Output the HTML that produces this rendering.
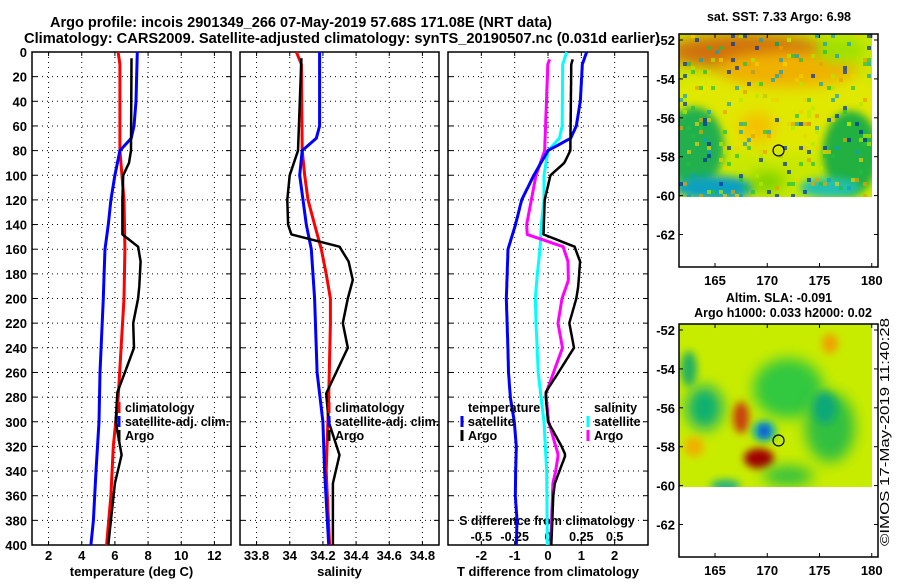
<!DOCTYPE html>
<html><head><meta charset="utf-8">
<style>
html,body{margin:0;padding:0;background:#fff;}
svg text{font-family:"Liberation Sans",sans-serif;font-weight:bold;fill:#000;}
</style></head>
<body>
<svg id="c" width="900" height="580" viewBox="0 0 900 580" xmlns="http://www.w3.org/2000/svg">
<defs>
<filter id="blur1" x="-50%" y="-50%" width="200%" height="200%"><feGaussianBlur stdDeviation="7"/></filter>
<filter id="blur2" x="-50%" y="-50%" width="200%" height="200%"><feGaussianBlur stdDeviation="4"/></filter>
<clipPath id="clipTop"><rect x="679" y="34" width="193" height="163"/></clipPath>
<clipPath id="clipBot"><rect x="679" y="324" width="193" height="163"/></clipPath>
</defs>
<text x="50" y="27" font-size="14.5" textLength="502" lengthAdjust="spacingAndGlyphs">Argo profile: incois 2901349_266 07-May-2019 57.68S 171.08E (NRT data)</text>
<text x="24" y="43" font-size="14.5" textLength="636" lengthAdjust="spacingAndGlyphs">Climatology: CARS2009. Satellite-adjusted climatology: synTS_20190507.nc (0.031d earlier)</text>
<g id="plots"></g>
<g id="maps"></g>
</svg>
<script>
// ---- data ----
const climTempDepth = [0,10,80,120,160,200,240,280,320,360,400];
const climTemp      = [6.19,6.3,6.3,6.55,6.6,6.55,6.37,6.2,5.9,5.76,5.5];
const satTempDepth  = [0,40,60,70,80,100,120,140,160,180,200,260,300,340,380,400];
const satTemp       = [7.35,7.27,7.15,6.98,6.3,6.0,5.76,5.6,5.4,5.35,5.3,5.1,5.04,4.86,4.7,4.55];
const argoTempDepth = [5,80,90,100,120,148,158,170,190,200,220,240,260,276,300,327,350,380,400];
const argoTemp      = [7.0,6.97,6.85,6.5,6.45,6.45,7.4,7.55,7.47,7.4,7.1,7.15,6.6,6.15,6.05,6.4,6.0,5.76,5.6];
const climSalDepth  = [0,10,80,100,120,140,160,180,200,220,280,340,400];
const climSal       = [34.04,34.07,34.075,34.09,34.11,34.15,34.19,34.22,34.245,34.245,34.235,34.22,34.24];
const satSalDepth   = [0,60,70,80,100,140,160,200,260,300,340,400];
const satSal        = [34.18,34.18,34.16,34.075,34.06,34.1,34.13,34.15,34.165,34.2,34.21,34.235];
const argoSalDepth  = [5,80,100,120,140,148,158,170,185,200,220,240,260,277,300,327,350,400];
const argoSal       = [34.07,34.05,34.0,33.985,33.99,34.01,34.3,34.355,34.38,34.35,34.32,34.35,34.28,34.22,34.235,34.3,34.26,34.26];
const depthTicks = [0,20,40,60,80,100,120,140,160,180,200,220,240,260,280,300,320,340,360,380,400];
const tempTicks = [2,4,6,8,10,12];
const salTicks = [33.8,34,34.2,34.4,34.6,34.8];
const salTickLabels = ["33.8","34","34.2","34.4","34.6","34.8"];
const tdiffTicks = [-2,-1,0,1,2];
const sdiffTicks = [-0.5,-0.25,0,0.25,0.5];
const latTicks = [-52,-54,-56,-58,-60,-62];
const lonTicks = [165,170,175,180];
const argoLon = 171.08, argoLat = -57.68;

const NS="http://www.w3.org/2000/svg";
const plots=document.getElementById('plots');
function mk(tag,attrs,parent,txt){const e=document.createElementNS(NS,tag);for(const k in attrs)e.setAttribute(k,attrs[k]);if(txt!==undefined)e.textContent=txt;(parent||plots).appendChild(e);return e;}
const yTop=52,yBot=545;
function yD(d){return yTop+d*(yBot-yTop)/400;}
function interp(ds,vs,d){if(d<ds[0]||d>ds[ds.length-1])return null;for(let i=0;i<ds.length-1;i++){if(d>=ds[i]&&d<=ds[i+1]){const t=(d-ds[i])/(ds[i+1]-ds[i]||1);return vs[i]+t*(vs[i+1]-vs[i]);}}return vs[vs.length-1];}

function panel(name,x0,x1,vmin,vmax,ticks,labels,xlabel){
  const g=mk('g',{});
  
  
  const sx=v=>x0+(v-vmin)*(x1-x0)/(vmax-vmin);
  ticks.forEach((t,i)=>{
    const gl=mk('line',{x1:sx(t),x2:sx(t),y1:yTop,y2:yBot,stroke:'#000','stroke-width':1,'stroke-dasharray':'1,4'},g);
    
    
    mk('line',{x1:sx(t),x2:sx(t),y1:yBot,y2:yBot-4,stroke:'#000'},g);
    mk('line',{x1:sx(t),x2:sx(t),y1:yTop,y2:yTop+4,stroke:'#000'},g);
    const tl=mk('text',{x:sx(t),y:560,'font-size':13,'text-anchor':'middle'},g,labels[i]);
    
    
  });
  depthTicks.forEach(d=>{
    const gl=mk('line',{x1:x0,x2:x1,y1:yD(d),y2:yD(d),stroke:'#000','stroke-width':1,'stroke-dasharray':'1,4'},g);
    
    
    mk('line',{x1:x0,x2:x0+5,y1:yD(d),y2:yD(d),stroke:'#000'},g);
    mk('line',{x1:x1,x2:x1-5,y1:yD(d),y2:yD(d),stroke:'#000'},g);
  });
  const fr=mk('rect',{x:x0,y:yTop,width:x1-x0,height:yBot-yTop,fill:'none',stroke:'#000','stroke-width':1.5},g);
  
  
  if(xlabel){const xl=mk('text',{x:(x0+x1)/2,y:576,'font-size':13,'text-anchor':'middle'},g,xlabel);
    
    }
  return {g,sx};
}
function line(p,ds,vs,color,w,name){
  const pts=ds.map((d,i)=>p.sx(vs[i]).toFixed(1)+','+yD(d).toFixed(1)).join(' ');
  const l=mk('polyline',{points:pts,fill:'none',stroke:color,'stroke-width':w,'stroke-linejoin':'round'},p.g);
  
  
}
depthTicks.forEach(d=>{
  const t=mk('text',{x:27,y:yD(d)+5,'font-size':13,'text-anchor':'end'},plots,String(d));
  
  
});
const pT=panel('temperature-panel',32,231,1,13,tempTicks,tempTicks.map(String),'temperature (deg C)');
line(pT,climTempDepth,climTemp,'#ff0000',3,'temp-climatology-line');
line(pT,satTempDepth,satTemp,'#0000ff',3,'temp-satellite-line');
line(pT,argoTempDepth,argoTemp,'#000000',2.5,'temp-argo-line');
const pS=panel('salinity-panel',240,439,33.7,34.9,salTicks,salTickLabels,'salinity');
line(pS,climSalDepth,climSal,'#ff0000',3,'sal-climatology-line');
line(pS,satSalDepth,satSal,'#0000ff',3,'sal-satellite-line');
line(pS,argoSalDepth,argoSal,'#000000',2.5,'sal-argo-line');
function legend(x,items,name){
  const g=mk('g',{});
  
  
  items.forEach((it,i)=>{
    const y=412+i*14;
    if(it[1]){mk('line',{x1:x-6,x2:x-6,y1:y-10,y2:y+1,stroke:it[1],'stroke-width':3},g);}
    const t=mk('text',{x:x,y:y,'font-size':12.5},g,it[0]);
    
    
  });
}
legend(125,[['climatology','#f00'],['satellite-adj. clim.','#00f'],['Argo','#000']],'temperature-legend');
legend(335,[['climatology','#f00'],['satellite-adj. clim.','#00f'],['Argo','#000']],'salinity-legend');
const pD=panel('difference-panel',448,648,-3,3,tdiffTicks,tdiffTicks.map(String),'T difference from climatology');
const sxS=v=>548+v*133.3;
const sdl=mk('text',{x:547,y:525,'font-size':12.5,'text-anchor':'middle'},pD.g,'S difference from climatology');


sdiffTicks.forEach(s=>{
  const t=mk('text',{x:sxS(s),y:541,'font-size':12.5,'text-anchor':'middle'},pD.g,String(s));
  
  
});
function diffLine(ds1,vs1,ds2,vs2,scale,color,w,name){
  const pts=[];
  for(let d=0;d<=400;d+=2){const a=interp(ds1,vs1,d),b=interp(ds2,vs2,d);if(a===null||b===null)continue;
    pts.push((548+(a-b)*scale).toFixed(1)+','+yD(d).toFixed(1));}
  const l=mk('polyline',{points:pts.join(' '),fill:'none',stroke:color,'stroke-width':w,'stroke-linejoin':'round'},pD.g);
  
  
}
diffLine(satSalDepth,satSal,climSalDepth,climSal,133.3,'#00ffff',3,'sal-diff-satellite-line');
diffLine(argoSalDepth,argoSal,climSalDepth,climSal,133.3,'#ff00ff',3,'sal-diff-argo-line');
diffLine(satTempDepth,satTemp,climTempDepth,climTemp,33.33,'#0000ff',3,'temp-diff-satellite-line');
diffLine(argoTempDepth,argoTemp,climTempDepth,climTemp,33.33,'#000000',2.5,'temp-diff-argo-line');
(function(){
  const g=mk('g',{});
  
  
  const items=[[468,412,'temperature',null],[468,426,'satellite','#00f'],[468,440,'Argo','#000'],
               [594,412,'salinity',null],[594,426,'satellite','#0ff'],[594,440,'Argo','#f0f']];
  items.forEach(it=>{
    if(it[3])mk('line',{x1:it[0]-6,x2:it[0]-6,y1:it[1]-10,y2:it[1]+1,stroke:it[3],'stroke-width':3},g);
    const t=mk('text',{x:it[0],y:it[1],'font-size':12.5},g,it[2]);
    
    
  });
})();

// ---- maps ----
const maps=document.getElementById('maps');
const mx=lon=>715+(lon-165)*10.45;
const my=lat=>40+(-52-lat)*19.45;
function mapFrame(name,y0,title1,title2,blobs,base,clip,texture){
  const g=mk('g',{},maps);
  
  
  const off=y0-34;
  const cg=mk('g',{'clip-path':'url(#'+clip+')'},g);
  mk('rect',{x:679,y:y0,width:193,height:163,fill:base},cg);
  blobs.forEach(b=>{mk('ellipse',{cx:mx(b[0]),cy:my(b[1])+off,rx:b[2],ry:b[3],fill:b[4],filter:'url(#'+(b[5]||'blur1')+')'},cg);});
  if(texture){
    // decorative speckle texture (deterministic, not data)
    const cols=['#20c040','#f0d000','#10a0c0','#e8a000','#b0e800','#0030a0'];
    let s=7;
    for(let i=0;i<260;i++){s=(s*1103+12345)%9973;const cx=679+(s%48)*4;s=(s*1103+12345)%9973;const cy=y0+(s%41)*4;
      const ci=(s>>3)%cols.length;
      mk('rect',{x:cx,y:cy,width:4,height:4,fill:cols[ci],opacity:0.7},cg);}
  }
  mk('rect',{x:679,y:y0,width:199,height:233,fill:'none',stroke:'#000','stroke-width':1.5},g);
  latTicks.forEach(l=>{
    const y=my(l)+off;
    mk('line',{x1:878,x2:874,y1:y,y2:y,stroke:'#000'},g);
    mk('line',{x1:679,x2:683,y1:y,y2:y,stroke:'#000'},g);
    const t=mk('text',{x:675,y:y+5,'font-size':13,'text-anchor':'end'},g,String(l));
    
    
  });
  lonTicks.forEach(l=>{
    mk('line',{x1:mx(l),x2:mx(l),y1:y0,y2:y0+4,stroke:'#000'},g);
    mk('line',{x1:mx(l),x2:mx(l),y1:y0+233,y2:y0+229,stroke:'#000'},g);
    const t=mk('text',{x:mx(l),y:y0+251,'font-size':13,'text-anchor':'middle'},g,String(l));
    
    
  });
  const c=mk('circle',{cx:mx(argoLon),cy:my(argoLat)+off,r:5.5,fill:'none',stroke:'#000','stroke-width':1.2},g);
  
  
  const t1=mk('text',{x:779,y:title2?y0-22:y0-13,'font-size':12.5,'text-anchor':'middle'},g,title1);
  
  
  if(title2){const t2=mk('text',{x:783,y:y0-7,'font-size':12.5,'text-anchor':'middle'},g,title2);
    
    }
}
mapFrame('sst-map',34,'sat. SST: 7.33 Argo: 6.98',null,[
  [171,-55.5,120,45,'#e0e800'],
  [168,-52.6,80,18,'#d07010'],
  [172,-53.5,70,18,'#f0b000'],
  [163,-57.5,30,40,'#20b050','blur2'],
  [178,-57.8,28,42,'#20b040','blur2'],
  [165,-59.6,40,12,'#10a0c0','blur2'],
  [176,-59.6,30,10,'#20c0b0','blur2'],
  [169,-56.5,18,15,'#f5c000'],
  [177,-52.5,25,12,'#9ce000'],
  [170,-59.3,18,10,'#7ad000']
],'#c8e800','clipTop',true);
mapFrame('sla-map',324,'Altim. SLA: -0.091','Argo h1000: 0.033 h2000: 0.02',[
  [172,-55,35,30,'#30c840','blur1'],
  [176,-57,25,35,'#30c040','blur1'],
  [164,-56,18,22,'#10b070','blur1'],
  [162.5,-54,8,18,'#20b060','blur2'],
  [175.5,-56,12,16,'#10a878','blur2'],
  [167.5,-56.5,8,16,'#c84010','blur2'],
  [169.7,-57.2,12,10,'#10b0a0','blur2'],
  [169.7,-57.2,6,7,'#2080e0','blur2'],
  [169.7,-57.2,3,4,'#0020c0','blur2'],
  [169.2,-58.6,15,10,'#a00000','blur2'],
  [163,-58,10,10,'#f0b000','blur2'],
  [172,-59.5,25,10,'#30c040','blur1'],
  [176,-52.7,8,10,'#f0a000','blur2'],
  [166,-60,15,6,'#20b080','blur2']
],'#c8ec00','clipBot',false);
const cp=mk('text',{x:0,y:0,'font-size':12.5,transform:'translate(889,546) rotate(-90)',style:'font-weight:normal'},maps,'©IMOS 17-May-2019 11:40:28');


cp.setAttribute('textLength','228');
cp.setAttribute('lengthAdjust','spacingAndGlyphs');
</script>
</body></html>
